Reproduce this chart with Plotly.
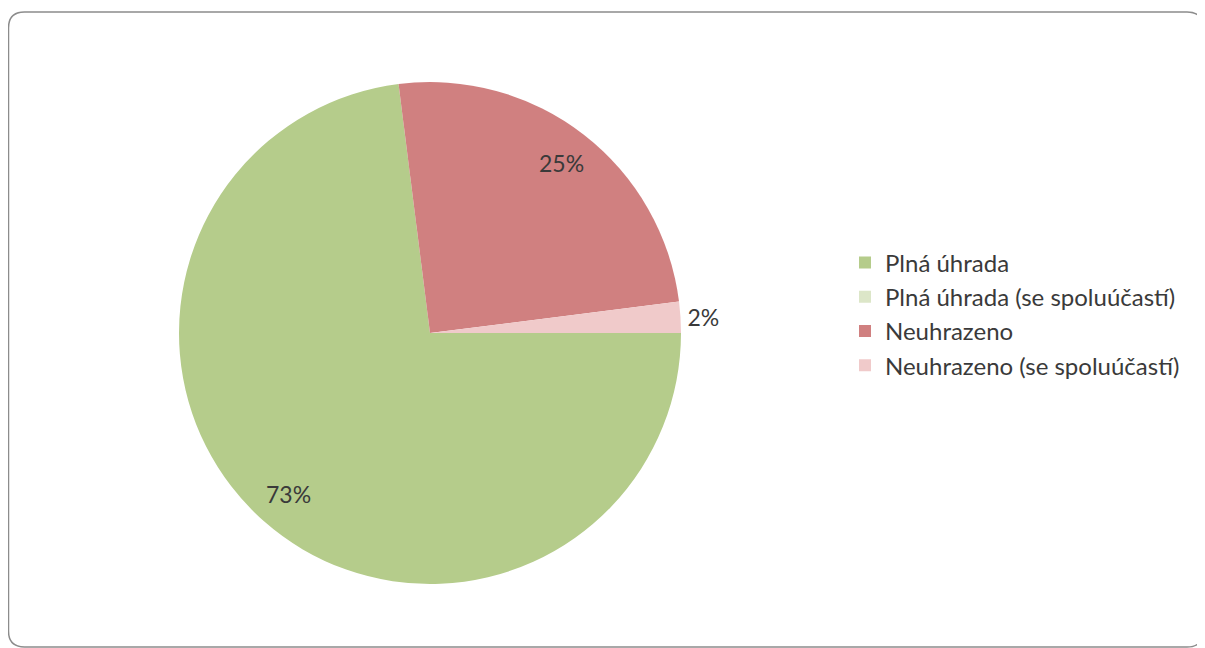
import math
import plotly.graph_objects as go

# page offset of the plot div (default body margin)
OFF = 8
W, H = 1205 - OFF, 648 - OFF

labels = ["Plná úhrada", "Plná úhrada (se spoluúčastí)", "Neuhrazeno", "Neuhrazeno (se spoluúčastí)"]
values = [73, 0, 25, 2]
colors = ["#B5CC8B", "#DCE6C8", "#D08080", "#F0CACA"]

FONT = "Lato"
TXT = "#3A3A3A"

# pie box in page pixels
px0, px1, py0, py1 = 179, 681, 82, 584
cx, cy = (px0 + px1) / 2, (py0 + py1) / 2
R = (px1 - px0) / 2


def xp(px):
    return (px - OFF) / W


def yp(py):
    return 1 - (py - OFF) / H


fig = go.Figure()
fig.add_trace(go.Pie(
    labels=labels, values=values, sort=False, direction="clockwise", rotation=90,
    marker=dict(colors=colors, line=dict(width=0)),
    texttemplate="%{percent:.0%}",
    textposition=["none", "none", "none", "outside"],
    textfont=dict(family=FONT, size=23, color=TXT),
    domain=dict(x=[xp(px0), xp(px1)], y=[yp(py1), yp(py0)]),
    hoverinfo="label+percent", showlegend=True,
))

# inside percentage labels placed along slice bisectors (from data)
total = sum(values)
cum = 0
for lab, v in zip(labels, values):
    start = cum
    cum += v
    if v == 0 or v / total < 0.1:
        continue
    mid = (start + v / 2) / total * 2 * math.pi  # clockwise from 3 o'clock
    r = 0.855 * R
    ax = cx + r * math.cos(mid)
    ay = cy + r * math.sin(mid)
    fig.add_annotation(x=xp(ax), y=yp(ay), xref="paper", yref="paper",
                       xanchor="center", yanchor="middle",
                       text=f"{round(v / total * 100)}%", showarrow=False,
                       font=dict(family=FONT, size=23, color=TXT))

# rounded border
bx0, by0, bx1, by1, rr = 8.5, 12, 1203, 647, 16
path = (f"M {xp(bx0 + rr)} {yp(by0)} L {xp(bx1 - rr)} {yp(by0)} "
        f"Q {xp(bx1)} {yp(by0)} {xp(bx1)} {yp(by0 + rr)} "
        f"L {xp(bx1)} {yp(by1 - rr)} Q {xp(bx1)} {yp(by1)} {xp(bx1 - rr)} {yp(by1)} "
        f"L {xp(bx0 + rr)} {yp(by1)} Q {xp(bx0)} {yp(by1)} {xp(bx0)} {yp(by1 - rr)} "
        f"L {xp(bx0)} {yp(by0 + rr)} Q {xp(bx0)} {yp(by0)} {xp(bx0 + rr)} {yp(by0)} Z")
fig.add_shape(type="path", path=path, xref="paper", yref="paper",
              line=dict(color="#8C8C8C", width=1.5))

fig.update_layout(
    width=W, height=H, margin=dict(l=0, r=0, t=0, b=0),
    paper_bgcolor="white", plot_bgcolor="white",
    legend=dict(x=xp(845), y=yp(314), xanchor="left", yanchor="middle",
                font=dict(family=FONT, size=24, color=TXT),
                bgcolor="rgba(0,0,0,0)", itemwidth=30),
    showlegend=True,
)

fig.write_html("out.html")
